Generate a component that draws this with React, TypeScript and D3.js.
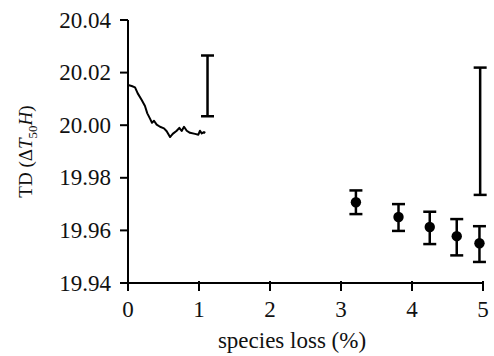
import React from "react";
import * as d3 from "d3";

const lineX = [0, 0.052, 0.099, 0.137, 0.193, 0.239, 0.272, 0.31, 0.338, 0.366, 0.404, 0.451, 0.507, 0.545, 0.592, 0.63, 0.686, 0.723, 0.756, 0.789, 0.827, 0.873, 0.944, 0.991, 1.014, 1.038, 1.07, 1.089];
const lineY = [20.0153, 20.0149, 20.0144, 20.0121, 20.0096, 20.0073, 20.0045, 20.0025, 20.0009, 20.0017, 20.0002, 19.9994, 19.9988, 19.9977, 19.9955, 19.9967, 19.9979, 19.999, 19.9978, 19.9994, 19.9979, 19.9971, 19.9967, 19.9964, 19.9979, 19.9969, 19.9974, 19.9971];

const pointX = [3.21, 3.81, 4.25, 4.63, 4.95];
const pointY = [19.9707, 19.9651, 19.9613, 19.9578, 19.9551];
const pointHi = [19.9752, 19.97, 19.9671, 19.9643, 19.9616];
const pointLo = [19.9662, 19.9598, 19.9548, 19.9505, 19.948];

const barX = [1.12, 4.96];
const barHi = [20.0265, 20.0219];
const barLo = [20.0034, 19.9735];

const xTicks = [0, 1, 2, 3, 4, 5];
const yTicks = [19.94, 19.96, 19.98, 20.0, 20.02, 20.04];

const W = 494, H = 356;
const M = { left: 128, right: 11, top: 20, bottom: 73 };
const font = "'Liberation Serif', 'Times New Roman', serif";

export default function App() {
  const x = d3.scaleLinear().domain([0, 5]).range([M.left, W - M.right]);
  const y = d3.scaleLinear().domain([19.94, 20.04]).range([H - M.bottom, M.top]);
  const line = d3.line<number>().x((_, i) => x(lineX[i])).y((d) => y(d));
  const cap = 6.5;
  const y0 = y(19.94);
  return (
    <svg width={W} height={H} style={{ position: "absolute", left: 0, top: 0, background: "#fff" }}>
      <g fontFamily={font} fontSize={23} fill="#111">
        {/* y axis */}
        <line x1={x(0)} x2={x(0)} y1={y(20.04)} y2={y0} stroke="#000" strokeWidth={2} />
        {yTicks.map((t) => (
          <g key={t}>
            <line x1={x(0) - 8} x2={x(0)} y1={y(t)} y2={y(t)} stroke="#000" strokeWidth={2} />
            <text x={x(0) - 17} y={y(t)} dy="0.33em" textAnchor="end">{t.toFixed(2)}</text>
          </g>
        ))}
        {/* x axis */}
        <line x1={x(0) - 8} x2={x(5) + 1} y1={y0} y2={y0} stroke="#000" strokeWidth={2} />
        {xTicks.map((t) => (
          <g key={t}>
            <line x1={x(t)} x2={x(t)} y1={y0 - 2} y2={y0 + 8} stroke="#000" strokeWidth={2} />
            <text x={x(t)} y={y0 + 34} textAnchor="middle">{t}</text>
          </g>
        ))}
        <text x={292} y={348} textAnchor="middle">species loss (%)</text>
        <text transform={`translate(32,${(M.top + y0) / 2}) rotate(-90)`} textAnchor="middle" fontSize={19}>
          TD (Δ<tspan fontStyle="italic">T</tspan>
          <tspan fontSize={13} dy={5}>50</tspan>
          <tspan fontStyle="italic" dy={-5}>H</tspan>)
        </text>
        {/* data line */}
        <path d={line(lineY) || ""} fill="none" stroke="#000" strokeWidth={2} strokeLinejoin="round" />
        {/* standalone error bars */}
        {barX.map((bx, i) => (
          <g key={i} stroke="#000" strokeWidth={2.5}>
            <line x1={x(bx)} x2={x(bx)} y1={y(barHi[i])} y2={y(barLo[i])} />
            <line x1={x(bx) - cap} x2={x(bx) + cap} y1={y(barHi[i])} y2={y(barHi[i])} />
            <line x1={x(bx) - cap} x2={x(bx) + cap} y1={y(barLo[i])} y2={y(barLo[i])} />
          </g>
        ))}
        {/* points with error bars */}
        {pointX.map((px, i) => (
          <g key={i}>
            <g stroke="#000" strokeWidth={2.5}>
              <line x1={x(px)} x2={x(px)} y1={y(pointHi[i])} y2={y(pointLo[i])} />
              <line x1={x(px) - cap} x2={x(px) + cap} y1={y(pointHi[i])} y2={y(pointHi[i])} />
              <line x1={x(px) - cap} x2={x(px) + cap} y1={y(pointLo[i])} y2={y(pointLo[i])} />
            </g>
            <circle cx={x(px)} cy={y(pointY[i])} r={5.2} fill="#000" />
          </g>
        ))}
      </g>
    </svg>
  );
}
